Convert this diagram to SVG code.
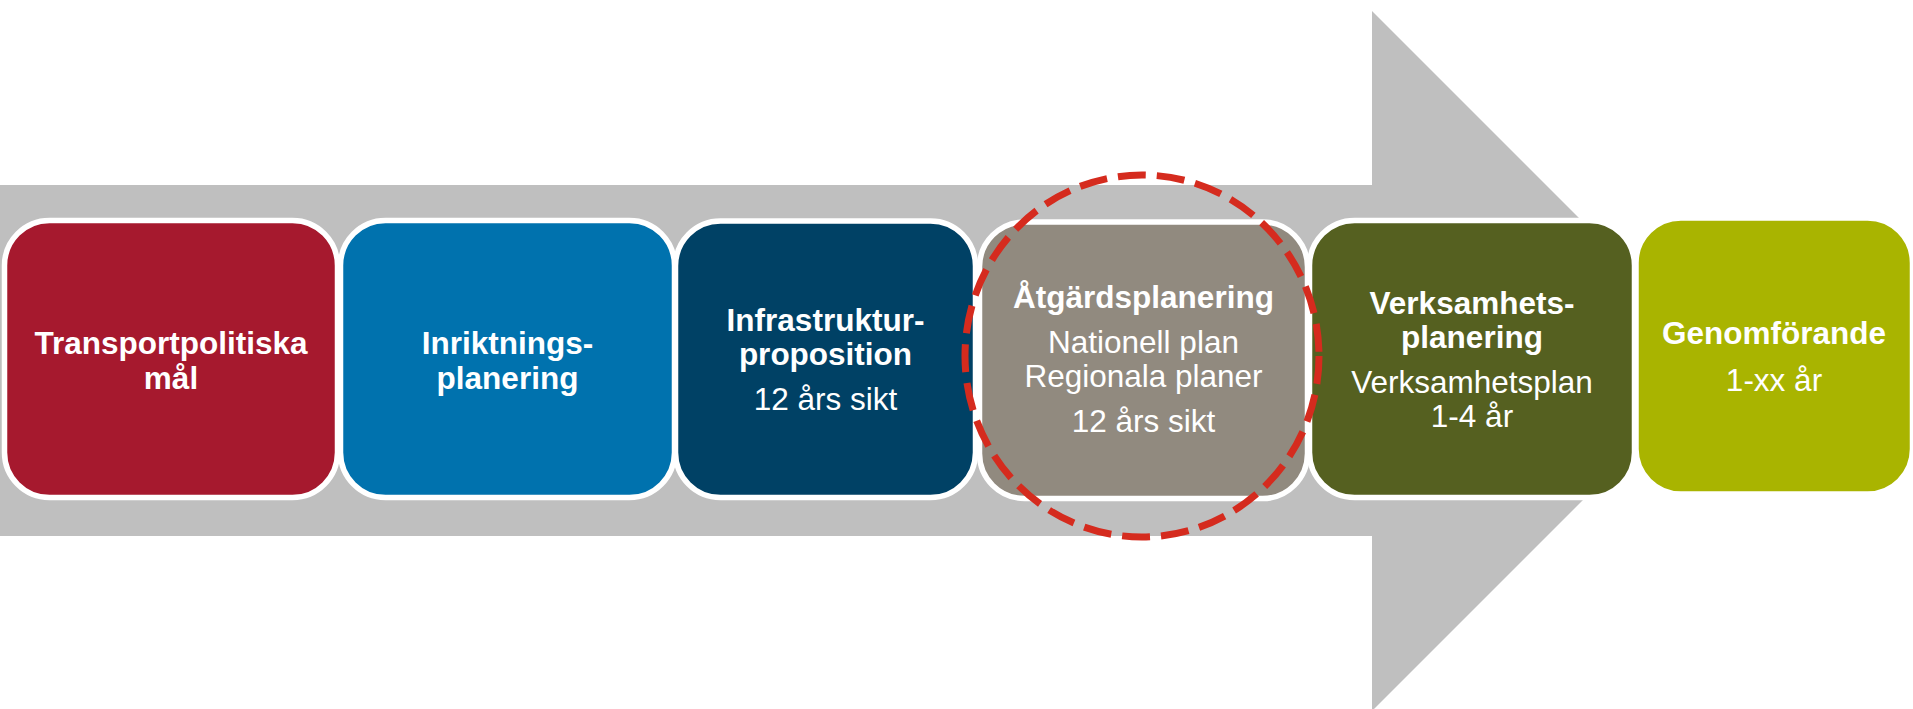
<svg xmlns="http://www.w3.org/2000/svg" width="1913" height="709" viewBox="0 0 1913 709">
  <style>
    .box { stroke: #FFFFFF; stroke-width: 5.5; }
    .t { font-family: "Liberation Sans", Arial, sans-serif; font-size: 31.5px; fill: #FFFFFF; text-anchor: middle; }
    .b { font-weight: bold; }
  </style>
  <rect x="0" y="0" width="1913" height="709" fill="#FFFFFF"/>
  <g id="background-arrow">
    <polygon points="0,185 1372,185 1372,11 1722,361 1372,711 1372,536 0,536" fill="#BFBFBF"/>
  </g>
  <g id="connectors"></g>
  <g id="node-transportpolitiska">
    <rect class="box" x="4.5" y="220.5" width="333" height="277" rx="45" ry="45" fill="#A6192E"/>
    <text class="t b" x="171" y="354">Transportpolitiska</text>
    <text class="t b" x="171" y="388.5">mål</text>
  </g>
  <g id="node-inriktning">
    <rect class="box" x="340.5" y="220.5" width="334" height="277" rx="45" ry="45" fill="#0072AE"/>
    <text class="t b" x="507.5" y="354">Inriktnings-</text>
    <text class="t b" x="507.5" y="388.5">planering</text>
  </g>
  <g id="node-infrastruktur">
    <rect class="box" x="675.5" y="221" width="300" height="276.5" rx="45" ry="45" fill="#004165"/>
    <text class="t b" x="825.5" y="330.5">Infrastruktur-</text>
    <text class="t b" x="825.5" y="365">proposition</text>
    <text class="t" x="825.5" y="410">12 års sikt</text>
  </g>
  <g id="node-atgardsplanering">
    <rect class="box" x="979.5" y="222" width="328" height="276.5" rx="45" ry="45" fill="#918A7F"/>
    <text class="t b" x="1143.5" y="308">Åtgärdsplanering</text>
    <text class="t" x="1143.5" y="353">Nationell plan</text>
    <text class="t" x="1143.5" y="387">Regionala planer</text>
    <text class="t" x="1143.5" y="432">12 års sikt</text>
  </g>
  <g id="node-verksamhetsplanering">
    <rect class="box" x="1309.5" y="220.5" width="325" height="277" rx="45" ry="45" fill="#556020"/>
    <text class="t b" x="1472" y="314">Verksamhets-</text>
    <text class="t b" x="1472" y="348">planering</text>
    <text class="t" x="1472" y="393">Verksamhetsplan</text>
    <text class="t" x="1472" y="427">1-4 år</text>
  </g>
  <g id="node-genomforande">
    <rect class="box" x="1636" y="218" width="276.5" height="276" rx="45" ry="45" fill="#A9B400"/>
    <text class="t b" x="1774" y="344">Genomförande</text>
    <text class="t" x="1774" y="391">1-xx år</text>
  </g>
  <g id="highlight-circle">
    <ellipse cx="1142" cy="356" rx="177" ry="181" fill="none" stroke="#D52B1E" stroke-width="7" stroke-dasharray="28 11"/>
  </g>
</svg>
